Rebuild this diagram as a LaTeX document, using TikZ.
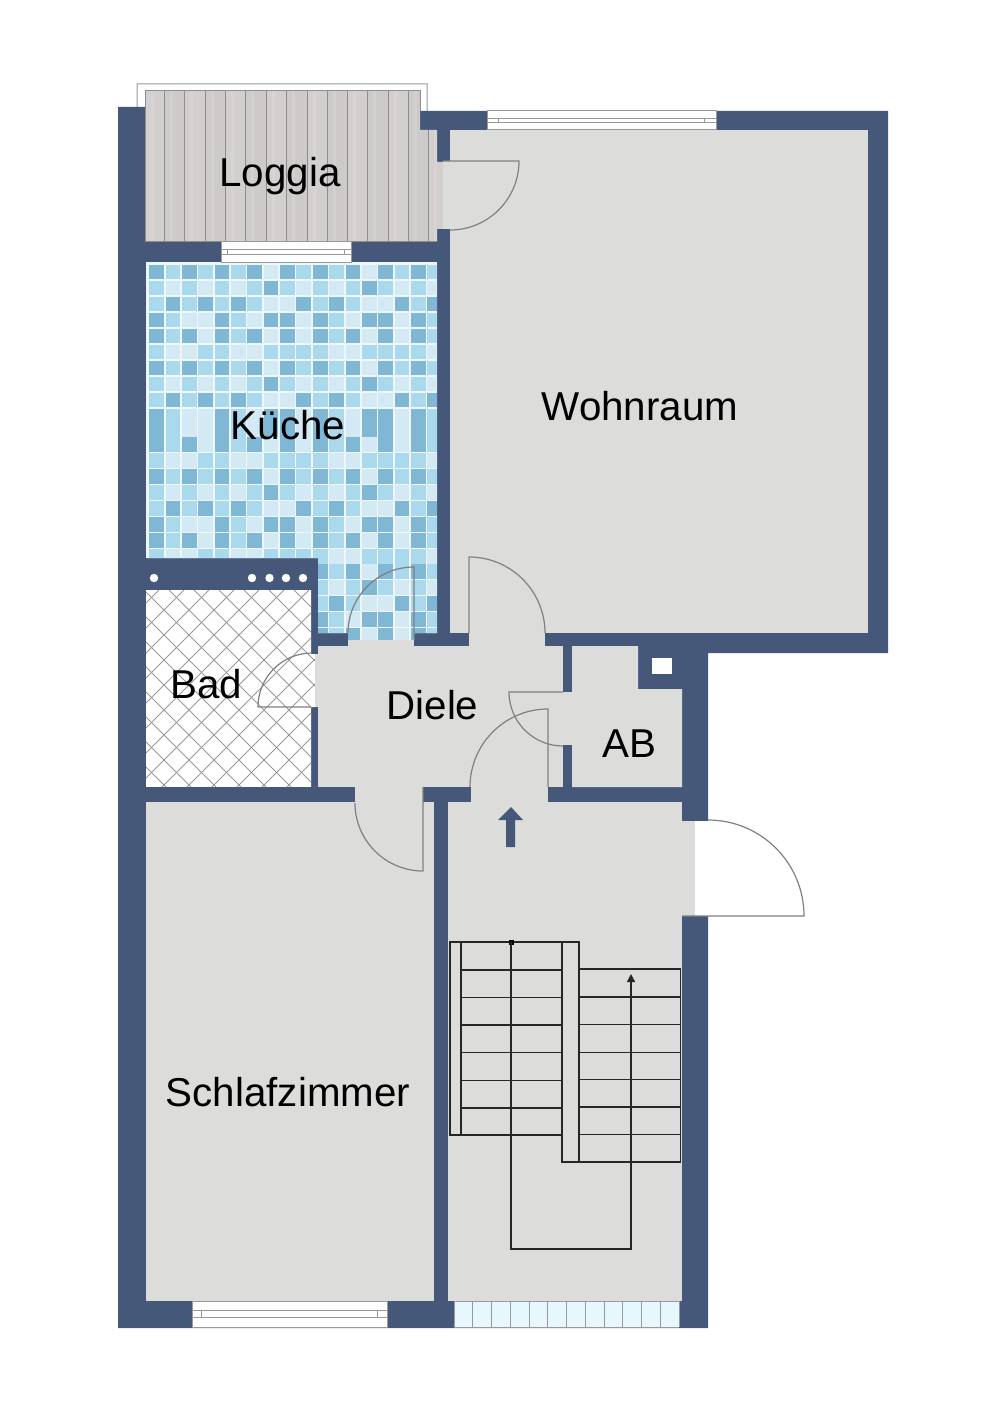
\documentclass[tikz,border=0pt]{standalone}
\usepackage{fontspec}
\setmainfont{Liberation Sans}
\usetikzlibrary{arrows.meta}
\definecolor{wallblue}{HTML}{465879}
\definecolor{floorgrey}{HTML}{DCDCDB}
\definecolor{doorgrey}{HTML}{808080}
\definecolor{grout}{HTML}{EEF8FC}
\definecolor{tilea}{HTML}{D3EAF4}
\definecolor{tileb}{HTML}{AAD8EC}
\definecolor{tilec}{HTML}{7FB7D5}
\definecolor{planka}{HTML}{D3CFCF}
\definecolor{plankb}{HTML}{CECACA}

\begin{document}
\begin{tikzpicture}[x=1pt,y=-1pt,
       wall/.style={fill=wallblue},
       room/.style={fill=floorgrey},
       door/.style={draw=doorgrey,line width=1.2pt},
       name label/.style={font=\fontsize{40.3}{48}\selectfont,text=black,inner sep=0pt,anchor=base},
       tile1/.style={fill=tilea},tile2/.style={fill=tileb},tile3/.style={fill=tilec}]

    \tikzstyle{stair} = [draw=black!85,line width=1.3pt]
    \tikzstyle{frame} = [draw=black!40,line width=1pt]

    % one window: left, right, top, bottom
    \def\glazing#1#2#3#4{
        \pgfmathsetmacro{\railt}{#3+0.38*(#4-#3)}
        \pgfmathsetmacro{\railb}{#3+0.62*(#4-#3)}
        \pgfmathsetmacro{\tickl}{#1+0.05*(#2-#1)}
        \pgfmathsetmacro{\tickr}{#2-0.05*(#2-#1)}
        \filldraw[fill=white,frame] (#1,#3) rectangle (#2,#4);
        \draw[frame] (#1,\railt) -- (#2,\railt) (#1,\railb) -- (#2,\railb);
        \draw[frame] (\tickl,\railt) -- (\tickl,\railb) (\tickr,\railt) -- (\tickr,\railb);
    }

    \useasboundingbox (0,0) rectangle (1000,1415);
    \fill[white] (0,0) rectangle (1000,1415);

    % railing, walls
    \filldraw[fill=white,frame] (137,108) -- (137,84) -- (427,84) -- (427,112) -- cycle;
    \fill[wall] (118,107) -- (145,107) -- (145,111) -- (888,111) -- (888,653) -- (708,653)
        -- (708,1328) -- (118,1328) -- cycle;

    % rooms
    \fill[room] (450,130) rectangle (868,633);
    \fill[room] (443,161) rectangle (450,229);
    \fill[room] (469,633) rectangle (545,646);
    \fill[room] (318,646) rectangle (563,787);
    \fill[room] (563,692) rectangle (572,745);
    \fill[room] (572,646) -- (638,646) -- (638,689) -- (682,689) -- (682,787) -- (572,787) -- cycle;
    \fill[room] (146,802) rectangle (434,1301);
    \fill[room] (355,787) rectangle (423,802);
    \fill[room] (471,787) rectangle (548,802);
    \fill[room] (448,802) rectangle (682,1301);
    \fill[room] (682,821) rectangle (695,916);
    \fill[white] (695,821) rectangle (708.5,916);
    \fill[white] (652,658) rectangle (672,674);

    % loggia
    \begin{scope}
        \clip (145,91) -- (420,91) -- (420,130) -- (437,130) -- (437,162) -- (443,162)
            -- (443,229) -- (437,229) -- (437,242) -- (145,242) -- cycle;
        \foreach \Xa/\Xb [count=\P] in {145/164,164/184,184/205,205/225,225/245,245/266,266/286,
                286/307,307/327,327/347,347/367,367/388,388/408,408/428,428/443}
        {
            \pgfmathtruncatemacro{\odd}{mod(\P,2)}
            \ifnum\odd=1 \fill[planka] (\Xa,91) rectangle (\Xb,242);
            \else \fill[plankb] (\Xa,91) rectangle (\Xb,242); \fi
            \draw[white,opacity=0.12,line width=3pt] (\Xa+7,91) -- (\Xa+7,242);
            \draw[doorgrey!90,line width=0.9pt] (\Xa,91) -- (\Xa,242);
        }
    \end{scope}
    \draw[doorgrey!90,line width=1pt] (145,91) -- (420,91) -- (420,111);
    \draw[doorgrey!90,line width=1pt] (145,242) -- (437,242);

    % kitchen mosaic
    \def\tilerows{{3,2,3,2,3,2,3,1,3,2,3,2,3,1,3,2,3,2},
                  {2,1,2,1,2,1,2,3,2,1,2,1,2,3,2,1,2,1},
                  {2,3,2,3,2,3,2,1,1,3,2,3,2,1,1,3,2,3},
                  {3,2,1,1,3,2,1,3,3,1,3,2,1,3,3,1,3,2},
                  {3,2,3,1,3,2,3,1,3,1,3,2,3,1,3,1,3,2},
                  {2,1,1,2,2,1,1,2,2,2,2,1,1,2,2,2,2,1}}
    \begin{scope}
        \clip (146,262) -- (437,262) -- (437,633) -- (414,633) -- (414,640) -- (348,640)
            -- (348,633) -- (318,633) -- (318,558) -- (146,558) -- cycle;
        \fill[grout] (146,262) rectangle (437,640);
        \foreach \Yt/\R in {264.7/0,280.7/1,296.7/2,312.7/3,328.7/4,344.7/5,360.7/0,376.7/1,
                392.7/2,408.7/3,422.7/3,437/4,453/5,469/0,485/1,501/2,517/3,533/4,549/5,
                564/0,580/1,596/2,612/3,628/4}
        {
            \foreach \X in {0,...,17}
            {
                \pgfmathtruncatemacro{\myentry}{{\tilerows}[\R][\X]}
                \pgfmathsetmacro{\Xl}{149.3+16.35*\X}
                \fill[tile\myentry] (\Xl,\Yt) rectangle (\Xl+14.7,\Yt+14.7);
            }
        }
    \end{scope}

    % bathroom
    \begin{scope}
        \clip (146,590) -- (311,590) -- (311,654) -- (315,654) -- (315,707) -- (311,707)
            -- (311,787) -- (146,787) -- cycle;
        \fill[white] (146,590) rectangle (315,787);
        \foreach \K in {-2,...,14}
            {\draw[black!40,line width=0.8pt] ({774+25*\K-590},590) -- ({774+25*\K-800},800);}
        \foreach \K in {-8,...,7}
            {\draw[black!40,line width=0.8pt] ({144+25*\K},590) -- ({354+25*\K},800);}
    \end{scope}
    \fill[room] (315,654) rectangle (318,707);
    \foreach \X in {154,252,269.5,286,303}
        {\fill[white] (\X,578) circle (4.2pt);}
    \fill[room] (348,640) rectangle (414,646);

    % windows
    \glazing{487}{716}{111}{130}
    \glazing{221}{351}{242}{262}
    \glazing{192}{387}{1301}{1327}
    \fill[cyan!10] (454,1301) rectangle (679,1327);
    \draw[frame] (454,1301) -- (679,1301) (454,1327) -- (679,1327);
    \foreach \K in {0,...,12}
        {\draw[frame] ({454+18.75*\K},1301) -- ({454+18.75*\K},1327);}

    % doors
    \draw[door] (443,161) -- (519,161) arc[start angle=0,end angle=-90,radius=69pt];
    \draw[door] (414,638) -- (414,567) arc[start angle=90,end angle=180,radius=66pt];
    \draw[door] (469,633) -- (469,557) arc[start angle=90,end angle=0,radius=76pt];
    \draw[door] (311,707) -- (258,707) arc[start angle=180,end angle=90,radius=54pt];
    \draw[door] (563,692) -- (509,692) arc[start angle=180,end angle=270,radius=54pt];
    \draw[door] (548,787) -- (548,709) arc[start angle=90,end angle=180,radius=78pt];
    \draw[door] (423,787) -- (423,871) arc[start angle=270,end angle=180,radius=68pt];
    \draw[door] (682,916) -- (804,916) arc[start angle=0,end angle=90,radius=96pt];

    % entrance arrow
    \fill[wall] (511,807) -- (523,820) -- (515,820) -- (515,847) -- (506,847) -- (506,820)
        -- (498,820) -- cycle;

    % stairs
    \draw[stair] (450,942) rectangle (562,1135);
    \draw[stair] (461,942) -- (461,1135);
    \foreach \Y in {970,997.5,1025,1052.5,1080.5,1108}
        {\draw[stair] (461,\Y) -- (562,\Y);}
    \draw[stair] (562,942) rectangle (579,1162);
    \draw[stair] (579,969) rectangle (680.5,1162);
    \foreach \Y in {997,1024.5,1052.5,1079.5,1107,1134.5}
        {\draw[stair] (579,\Y) -- (680.5,\Y);}
    \fill[black] (509,940) rectangle (513.5,944.5);
    \draw[stair,-{Triangle[width=8pt,length=8pt]}] (511,942) -- (511,1249) -- (631,1249) -- (631,974);

    % room names
    \node[name label] (loggia) at (280,187) {Loggia};
    \node[name label] (kueche) at (288,439) {Küche};
    \node[name label] (wohnraum) at (640,420) {Wohnraum};
    \node[name label] (bad) at (206.5,698) {Bad};
    \node[name label] (diele) at (432.5,719) {Diele};
    \node[name label] (ab) at (629.5,757) {AB};
    \node[name label] (schlafzimmer) at (288,1106) {Schlafzimmer};

\end{tikzpicture}
\end{document}
